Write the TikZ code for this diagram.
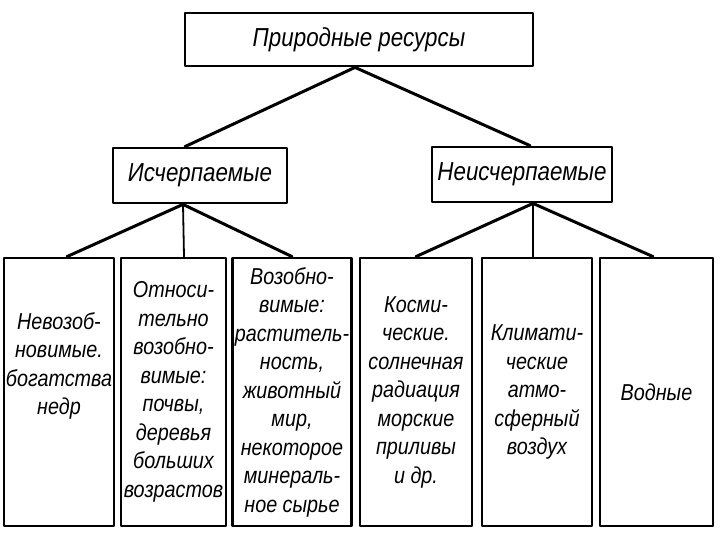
\documentclass[tikz,border=0pt]{standalone}
\usepackage{fontspec}
\usepackage{tikz}
\newfontfamily\boxfont{Liberation Sans}[FakeStretch=0.86]
\usetikzlibrary{positioning}

\begin{document}
\begin{tikzpicture}[x=1pt, y=-1pt, line join = round, line cap = round,
    res/.style={draw, line width=2.8pt, align=center, inner sep=2pt,
                font=\boxfont\itshape\fontsize{23}{28.5}\selectfont},
    kind/.style={res, minimum height=55pt, font=\boxfont\itshape\fontsize{26}{30}\selectfont},
    leaf/.style={res, minimum height=268pt},
    link/.style={line width=3pt},
    thin link/.style={line width=1.8pt}]

                \useasboundingbox (0,0) rectangle (720,540);

                % top and second level
                \node[kind, minimum width=348pt, minimum height=53pt] (root) at (359,39.5) {Природные ресурсы};
                \node[kind, minimum width=174pt] (exh) at (200,175.5) {Исчерпаемые};
                \node[kind, minimum width=180pt] (inexh) at (522,174.5) {Неисчерпаемые};

                % bottom row
                \node[leaf, minimum width=104pt] (nonren) at (59,392) {Невозоб-\\новимые.\\богатства\\недр\\[28.5pt]};
                \node[leaf, minimum width=105pt] (relren) at (173.5,392) {Относи-\\тельно\\возобно-\\вимые:\\почвы,\\деревья\\больших\\возрастов};
                \node[leaf, minimum width=118pt] (ren) at (292,392) {Возобно-\\вимые:\\раститель-\\ность,\\животный\\мир,\\некоторое\\минераль-\\ное сырье};
                \node[leaf, minimum width=112pt] (cosm) at (416,392) {Косми-\\ческие.\\солнечная\\радиация\\морские\\приливы\\и др.};
                \node[leaf, minimum width=110pt] (clim) at (537,392) {Климати-\\ческие\\атмо-\\сферный\\воздух};
                \node[leaf, minimum width=113pt] (water) at (656.5,392) {Водные};

                \draw[link] ([xshift=-4pt]root.south) -- ([xshift=-15pt]exh.north);
                \draw[link] ([xshift=-4pt]root.south) -- ([xshift=8pt]inexh.north);
                \draw[link] ([xshift=-17pt]exh.south) -- ([xshift=8pt]nonren.north);
                \draw[thin link] ([xshift=-17pt]exh.south) -- ([xshift=10.5pt]relren.north);
                \draw[link] ([xshift=-17pt]exh.south) -- (ren.north);
                \draw[link] ([xshift=11pt]inexh.south) -- (cosm.north);
                \draw[thin link] ([xshift=11pt]inexh.south) -- ([xshift=-4pt]clim.north);
                \draw[link] ([xshift=11pt]inexh.south) -- ([xshift=-3.5pt]water.north);
              \end{tikzpicture}
\end{document}
